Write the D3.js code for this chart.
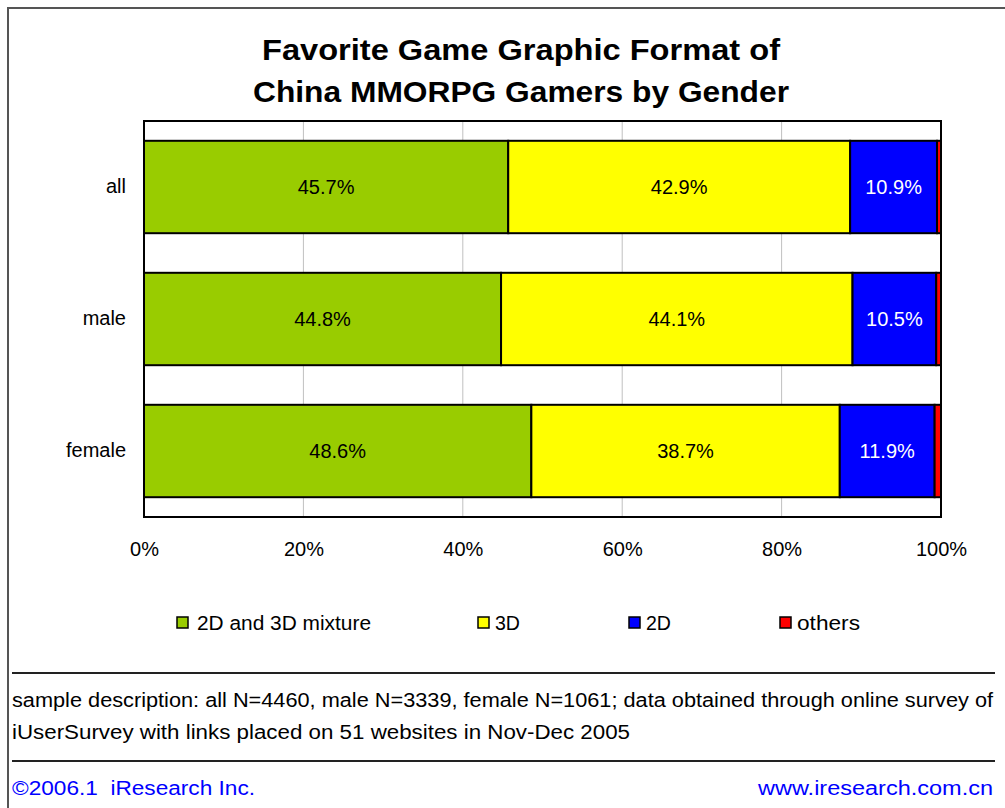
<!DOCTYPE html>
<html>
<head>
<meta charset="utf-8">
<script src="https://cdn.jsdelivr.net/npm/d3@7"></script>
<style>
  html, body { margin: 0; padding: 0; background: #fff; }
  svg { display: block; font-family: "Liberation Sans", Arial, sans-serif; }
</style>
</head>
<body>
<svg id="chart" width="1005" height="808"></svg>
<script>
// Survey groups (rows) and the share of each graphic format, in percent
const categories = ["all", "male", "female"];
const seriesNames = ["2D and 3D mixture", "3D", "2D", "others"];
const mixtureValues = [45.7, 44.8, 48.6];
const threeDValues = [42.9, 44.1, 38.7];
const twoDValues = [10.9, 10.5, 11.9];
const othersValues = [0.5, 0.6, 0.8];
const tickValues = [0, 20, 40, 60, 80, 100];
const tickLabels = ["0%", "20%", "40%", "60%", "80%", "100%"];

const colors = ["#99cc00", "#ffff00", "#0000ff", "#ff0000"];
const labelColors = ["#000", "#000", "#fff", null];
const FS = 20;

const svg = d3.select("#chart");

// Outer frame (left and top edges)
svg.append("path")
  .attr("d", "M8,808 L8,8 L1005,8")
  .attr("fill", "none").attr("stroke", "#555").attr("stroke-width", 2);

// Title
const titleLines = [
  { text: "Favorite Game Graphic Format of", y: 60, len: 518 },
  { text: "China MMORPG Gamers by Gender", y: 102, len: 536 }
];
svg.append("g").selectAll("text")
  .data(titleLines)
  .join("text")
  .attr("x", d => 521 - d.len / 2).attr("y", d => d.y)
  .attr("font-size", 30).attr("font-weight", "bold").attr("fill", "#000")
  .attr("textLength", d => d.len).attr("lengthAdjust", "spacingAndGlyphs")
  .text(d => d.text);

// Scales
const plot = { left: 144, right: 941, top: 121, bottom: 517 };
const x = d3.scaleLinear().domain([0, 100]).range([plot.left, plot.right]);
const y = d3.scaleBand().domain(categories)
  .range([plot.top, plot.bottom]).paddingInner(0.3).paddingOuter(0.15);

// Gridlines
svg.append("g").selectAll("line")
  .data(tickValues.slice(1, -1))
  .join("line")
  .attr("x1", d => x(d)).attr("x2", d => x(d))
  .attr("y1", plot.top).attr("y2", plot.bottom)
  .attr("stroke", "#c0c0c0").attr("stroke-width", 1);

// Stacked data
const rows = categories.map((c, i) => ({
  cat: c,
  "2D and 3D mixture": mixtureValues[i],
  "3D": threeDValues[i],
  "2D": twoDValues[i],
  "others": othersValues[i]
}));
const stacked = d3.stack().keys(seriesNames)(rows);

const layers = svg.append("g").selectAll("g")
  .data(stacked)
  .join("g")
  .attr("fill", (d, i) => colors[i]);

layers.selectAll("rect")
  .data(d => d)
  .join("rect")
  .attr("x", d => x(d[0]))
  .attr("y", d => y(d.data.cat))
  .attr("width", d => x(d[1]) - x(d[0]))
  .attr("height", y.bandwidth())
  .attr("stroke", "#000").attr("stroke-width", 2);

// Value labels inside segments
stacked.forEach((layer, i) => {
  if (!labelColors[i]) return;
  svg.append("g").selectAll("text")
    .data(layer)
    .join("text")
    .attr("x", d => (x(d[0]) + x(d[1])) / 2)
    .attr("y", d => y(d.data.cat) + y.bandwidth() / 2)
    .attr("dy", "0.35em")
    .attr("text-anchor", "middle")
    .attr("font-size", FS)
    .attr("fill", labelColors[i])
    .text(d => (d[1] - d[0]).toFixed(1) + "%");
});

// Plot frame
svg.append("rect")
  .attr("x", plot.left).attr("y", plot.top)
  .attr("width", plot.right - plot.left).attr("height", plot.bottom - plot.top)
  .attr("fill", "none").attr("stroke", "#000").attr("stroke-width", 2);

// Category axis
const yAxis = svg.append("g")
  .attr("transform", `translate(${plot.left},0)`)
  .call(d3.axisLeft(y).tickSize(0).tickPadding(18));
yAxis.select(".domain").remove();
yAxis.selectAll("text").attr("font-size", FS).attr("fill", "#000")
  .attr("font-family", "Liberation Sans, Arial, sans-serif");

// Percent axis
const xAxis = svg.append("g")
  .attr("transform", `translate(0,${plot.bottom})`)
  .call(d3.axisBottom(x).tickValues(tickValues)
    .tickFormat((d, i) => tickLabels[i]).tickSize(0).tickPadding(25));
xAxis.select(".domain").remove();
xAxis.selectAll("text").attr("font-size", FS).attr("fill", "#000")
  .attr("font-family", "Liberation Sans, Arial, sans-serif");

// Legend
const legendX = [177, 478, 629, 780];
const legendLen = [174, 25, 25, 63];
const legend = svg.append("g").selectAll("g")
  .data(seriesNames)
  .join("g")
  .attr("transform", (d, i) => `translate(${legendX[i]},617)`);
legend.append("rect")
  .attr("width", 11).attr("height", 11)
  .attr("fill", (d, i) => colors[i])
  .attr("stroke", "#000").attr("stroke-width", 1.5);
legend.append("text")
  .attr("x", (d, i) => i === 0 ? 20 : 17).attr("y", 6).attr("dy", "0.35em")
  .attr("font-size", FS).attr("fill", "#000")
  .attr("textLength", (d, i) => legendLen[i]).attr("lengthAdjust", "spacingAndGlyphs")
  .text(d => d);

// Footer rules
[673, 761].forEach(yy => {
  svg.append("line")
    .attr("x1", 12).attr("x2", 995).attr("y1", yy).attr("y2", yy)
    .attr("stroke", "#222").attr("stroke-width", 2);
});

// Sample note
svg.append("text").attr("x", 12).attr("y", 707)
  .attr("font-size", FS).attr("fill", "#000")
  .attr("textLength", 981).attr("lengthAdjust", "spacingAndGlyphs")
  .text("sample description: all N=4460, male N=3339, female N=1061; data obtained through online survey of");
svg.append("text").attr("x", 12).attr("y", 739)
  .attr("font-size", FS).attr("fill", "#000")
  .attr("textLength", 618).attr("lengthAdjust", "spacingAndGlyphs")
  .text("iUserSurvey with links placed on 51 websites in Nov-Dec 2005");

// Source line
svg.append("text").attr("x", 12).attr("y", 795)
  .attr("font-size", FS).attr("fill", "#0000ff")
  .attr("textLength", 243).attr("lengthAdjust", "spacingAndGlyphs")
  .attr("xml:space", "preserve")
  .text("\u00a92006.1  iResearch Inc.");
svg.append("text").attr("x", 758).attr("y", 795)
  .attr("font-size", FS).attr("fill", "#0000ff")
  .attr("textLength", 235).attr("lengthAdjust", "spacingAndGlyphs")
  .text("www.iresearch.com.cn");
</script>
</body>
</html>
